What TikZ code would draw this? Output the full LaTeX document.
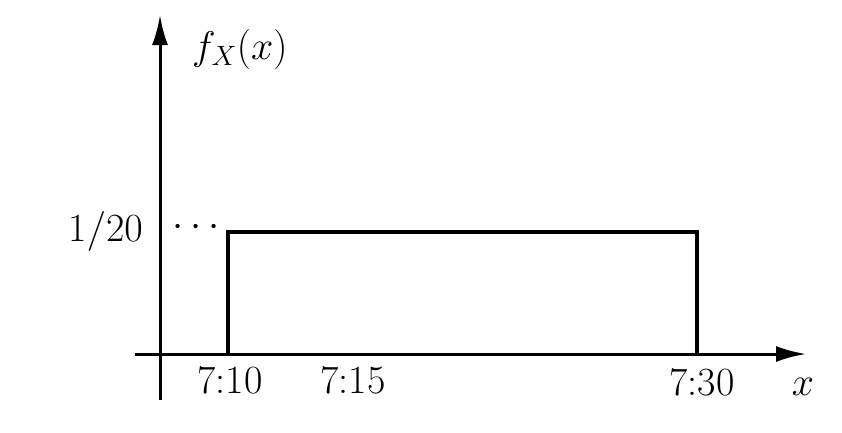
\RequirePackage{fix-cm}
\documentclass[tikz,border=0pt]{standalone}
\usetikzlibrary{arrows.meta}
\begin{document}
\begin{tikzpicture}[x=1pt,y=-1pt,
  axis/.style={line width=3pt,-{Latex[length=30pt,width=16pt]}},
  graph/.style={line width=3.2pt},
  lab/.style={inner sep=0pt,font=\fontsize{40}{48}\selectfont}]
\useasboundingbox (0,0) rectangle (842,432);
% axes
\coordinate (ybot) at (160,400);
\coordinate (ytop) at (160,15);
\coordinate (xleft) at (135,354);
\coordinate (xright) at (806,354);
\draw[axis] (ybot) -- (ytop);
\draw[axis] (xleft) -- (xright);
% density
\coordinate (a0) at (228,354);
\coordinate (a1) at (228,232);
\coordinate (b1) at (697,232);
\coordinate (b0) at (697,354);
\draw[graph] (a0) -- (a1) -- (b1) -- (b0);
% labels
\node[lab,anchor=base west] (fx) at (192,59) {$f_X(x)$};
\node[lab,anchor=east] (h) at (143,231) {$1/20$};
\node[lab,anchor=center] (dots) at (196,228) {$\cdots$};
\node[lab,anchor=base] (t10) at (230,393) {7:10};
\node[lab,anchor=base] (t15) at (353,393) {7:15};
\node[lab,anchor=base] (t30) at (702,395) {7:30};
\node[lab,anchor=base] (xl) at (803,395) {$x$};
\end{tikzpicture}
\end{document}
